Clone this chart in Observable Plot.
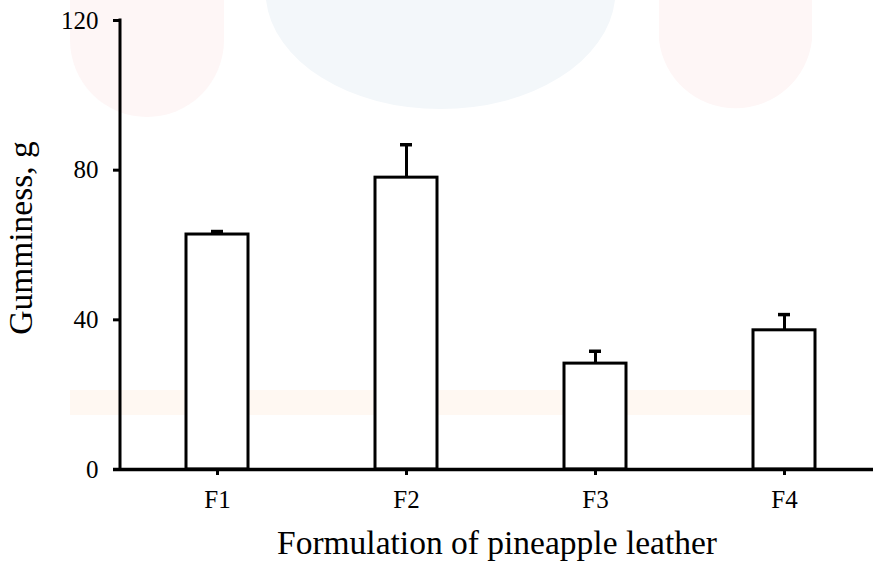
<!DOCTYPE html>
<html>
<head>
<meta charset="utf-8">
<script src="https://cdn.jsdelivr.net/npm/d3@7"></script>
<script src="https://cdn.jsdelivr.net/npm/@observablehq/plot@0.6"></script>
<style>
  html, body { margin: 0; padding: 0; background: #ffffff; }
  #wrap { position: relative; width: 873px; height: 564px; overflow: hidden; }
  #wm, #chart { position: absolute; left: 0; top: 0; }
  #chart svg { background: transparent; }
  #chart svg text { font-family: 'Liberation Serif', 'Times New Roman', serif; }
</style>
</head>
<body>
<div id="wrap">
  <svg id="wm" width="873" height="564"></svg>
  <div id="chart"></div>
</div>
<script>
// ---- data ----
const categories = ["F1", "F2", "F3", "F4"];
const means = [62.8, 78, 28.3, 37.2];
const sds = [0.8, 8.8, 3.3, 4.2];
const yTicks = [0, 40, 80, 120];
const xTitle = "Formulation of pineapple leather";
const yTitle = "Gumminess, g";

const data = categories.map((c, i) => ({cat: c, mean: means[i], sd: sds[i]}));
const font = "'Liberation Serif', 'Times New Roman', serif";

// ---- faint background decoration (watermark shapes) ----
const wm = d3.select("#wm");
wm.append("path").attr("d", "M70,0 V40 A77,77 0 0 0 224,40 V0 Z").attr("fill", "#fef6f6");
wm.append("path").attr("d", "M659,0 V40 A77,77 0 0 0 812,40 V0 Z").attr("fill", "#fef6f6");
wm.append("path").attr("d", "M266,0 A175,118 0 0 0 615,0 Z").attr("fill", "#f3f7fa");
wm.append("rect").attr("x", 70).attr("y", 390).attr("width", 737).attr("height", 25).attr("fill", "#fff8f2");

// ---- y-axis line drawn from the plot's own dimensions ----
function yAxisLine(index, scales, values, dims) {
  const g = d3.create("svg:g");
  g.append("line")
    .attr("x1", dims.marginLeft).attr("x2", dims.marginLeft)
    .attr("y1", scales.y(yTicks[yTicks.length - 1]) - 1.5).attr("y2", scales.y(0))
    .attr("stroke", "black").attr("stroke-width", 3);
  return g.node();
}

const chart = Plot.plot({
  width: 873,
  height: 564,
  marginLeft: 120,
  marginRight: 0,
  marginTop: 20,
  marginBottom: 95,
  style: {fontFamily: font, fontSize: "24px", color: "black", background: "transparent", overflow: "visible"},
  x: {domain: categories, range: [121, 880], paddingInner: 0.67, paddingOuter: 0.335, label: null},
  y: {domain: [0, 120], label: null},
  marks: [
    Plot.ruleX(data, {x: "cat", y1: "mean", y2: d => d.mean + d.sd, stroke: "black", strokeWidth: 3}),
    Plot.tickY(data, {x: "cat", y: d => d.mean + d.sd, stroke: "black", strokeWidth: 3.5, insetLeft: 25, insetRight: 25}),
    Plot.barY(data, {x: "cat", y: "mean", fill: "white", stroke: "black", strokeWidth: 3}),
    Plot.ruleY([0], {stroke: "black", strokeWidth: 3.5, insetLeft: -7}),
    yAxisLine,
    Plot.axisY({ticks: yTicks, tickFormat: d => String(d), tickSize: 7, tickPadding: 15, fontSize: 25, strokeWidth: 3, label: null}),
    Plot.axisX({tickSize: 6, tickPadding: 15, fontSize: 25, strokeWidth: 3, label: null}),
    Plot.text([xTitle], {frameAnchor: "bottom", textAnchor: "middle", lineAnchor: "bottom", dy: 84, fontSize: 33.5, fill: "black"}),
    Plot.text([yTitle], {frameAnchor: "left", textAnchor: "middle", lineAnchor: "middle", dx: -99, dy: -7, rotate: -90, fontSize: 33.5, fill: "black"})
  ]
});
document.getElementById("chart").appendChild(chart);
</script>
</body>
</html>
